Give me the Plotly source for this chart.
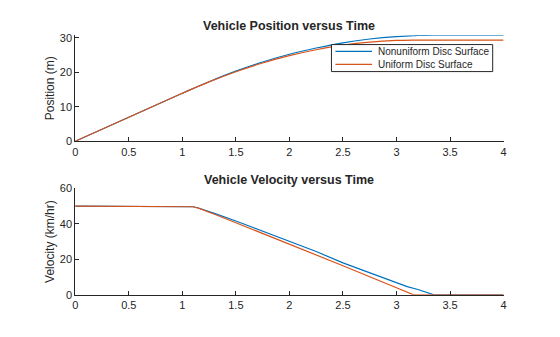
import plotly.graph_objects as go

# ---- data ----
t_pos = [0, 0.5, 1.0, 1.05, 1.25, 1.5, 1.75, 2.0, 2.25, 2.5, 2.75, 3.0, 3.16, 3.2, 3.35, 3.6, 4.0]
pos_nonuniform = [0, 6.94, 13.89, 14.58, 17.25, 20.3, 22.95, 25.2, 27.0, 28.5, 29.6, 30.3, 30.55, 30.62, 30.7, 30.7, 30.7]
pos_uniform = [0, 6.94, 13.89, 14.58, 17.19, 20.13, 22.66, 24.78, 26.5, 27.81, 28.7, 29.18, 29.27, 29.28, 29.3, 29.3, 29.3]

t_vel_nonuniform = [0, 1.05, 1.1, 1.15, 1.2, 1.3, 1.5, 1.75, 2.0, 2.25, 2.5, 2.75, 3.0, 3.1, 3.2, 3.35, 4.0]
vel_nonuniform = [50, 50, 49.6, 48.9, 48.0, 45.9, 41.6, 36.0, 30.3, 24.4, 18.0, 12.4, 6.7, 4.6, 3.0, 0, 0]
t_vel_uniform = [0, 1.05, 1.1, 1.15, 1.2, 1.3, 1.5, 2.0, 2.5, 3.0, 3.16, 4.0]
vel_uniform = [50, 50, 49.6, 48.8, 47.7, 45.4, 40.6, 28.6, 16.4, 4.0, 0, 0]

series_names = ["Nonuniform Disc Surface", "Uniform Disc Surface"]
x_ticks = [0, 0.5, 1, 1.5, 2, 2.5, 3, 3.5, 4]
x_tick_text = ["0", "0.5", "1", "1.5", "2", "2.5", "3", "3.5", "4"]
pos_ticks = [0, 10, 20, 30]
vel_ticks = [0, 20, 40, 60]

BLUE = "#0072BD"
ORANGE = "#D95319"
AX = "#262626"
FONT = "Liberation Sans, Arial, sans-serif"
colors = [BLUE, ORANGE]

fig = go.Figure()
fig.add_trace(go.Scatter(x=t_pos, y=pos_nonuniform, mode="lines", name=series_names[0], showlegend=False,
                         line=dict(color=BLUE, width=1.2, shape="spline", smoothing=0.6),
                         xaxis="x", yaxis="y"))
fig.add_trace(go.Scatter(x=t_pos, y=pos_uniform, mode="lines", name=series_names[1], showlegend=False,
                         line=dict(color=ORANGE, width=1.2, shape="spline", smoothing=0.6),
                         xaxis="x", yaxis="y"))
fig.add_trace(go.Scatter(x=t_vel_nonuniform, y=vel_nonuniform, mode="lines", showlegend=False,
                         line=dict(color=BLUE, width=1.2), xaxis="x2", yaxis="y2"))
fig.add_trace(go.Scatter(x=t_vel_uniform, y=vel_uniform, mode="lines", showlegend=False,
                         line=dict(color=ORANGE, width=1.2), xaxis="x2", yaxis="y2"))

W, H = 560, 337
def px(p):
    return p / W
def py(p):
    return 1 - p / H

xd = [73 / W, 506 / W]
axis_common = dict(showline=True, linecolor=AX, linewidth=1, ticks="inside", ticklen=4,
                   tickcolor=AX, tickwidth=1, showgrid=False, zeroline=False,
                   tickfont=dict(family=FONT, size=11, color=AX), mirror=False)

# compact MATLAB-style legend box (drawn in paper coordinates)
shapes = [dict(type="rect", xref="paper", yref="paper", x0=px(332), x1=px(495), y0=py(68), y1=py(40),
               line=dict(color=AX, width=1), fillcolor="white", layer="above")]
annotations = []
legend_rows = [47, 60.5]
for name, c, yy in zip(series_names, colors, legend_rows):
    shapes.append(dict(type="line", xref="paper", yref="paper", x0=px(336), x1=px(373), y0=py(yy), y1=py(yy),
                       line=dict(color=c, width=1.2), layer="above"))
    annotations.append(dict(text=name, x=px(377), y=py(yy), xref="paper", yref="paper", showarrow=False,
                            xanchor="left", yanchor="middle", font=dict(family=FONT, size=10, color=AX)))

annotations += [
    dict(text="<b>Vehicle Position versus Time</b>", x=(xd[0] + xd[1]) / 2, y=py(20.5),
         xref="paper", yref="paper", showarrow=False, xanchor="center", yanchor="middle",
         font=dict(family=FONT, size=12.5, color=AX)),
    dict(text="<b>Vehicle Velocity versus Time</b>", x=(xd[0] + xd[1]) / 2, y=py(180.3),
         xref="paper", yref="paper", showarrow=False, xanchor="center", yanchor="middle",
         font=dict(family=FONT, size=12.5, color=AX)),
]

fig.update_layout(
    width=W, height=H, margin=dict(l=0, r=0, t=0, b=0),
    paper_bgcolor="white", plot_bgcolor="white",
    font=dict(family=FONT, size=11, color=AX),
    showlegend=False,
    xaxis=dict(domain=xd, range=[0, 4], tickvals=x_ticks, ticktext=x_tick_text,
               anchor="y", **axis_common),
    yaxis=dict(domain=[py(140.3), py(30.3)], range=[0, 30.7], tickvals=pos_ticks,
               anchor="x", title=dict(text="Position (m)", font=dict(family=FONT, size=12, color=AX), standoff=2),
               **axis_common),
    xaxis2=dict(domain=xd, range=[0, 4], tickvals=x_ticks, ticktext=x_tick_text,
                anchor="y2", **axis_common),
    yaxis2=dict(domain=[py(299.5), py(189)], range=[0, 60], tickvals=vel_ticks,
                anchor="x2", title=dict(text="Velocity (km/hr)", font=dict(family=FONT, size=12, color=AX), standoff=2),
                **axis_common),
    shapes=shapes,
    annotations=annotations,
)

fig.write_html("out.html")
